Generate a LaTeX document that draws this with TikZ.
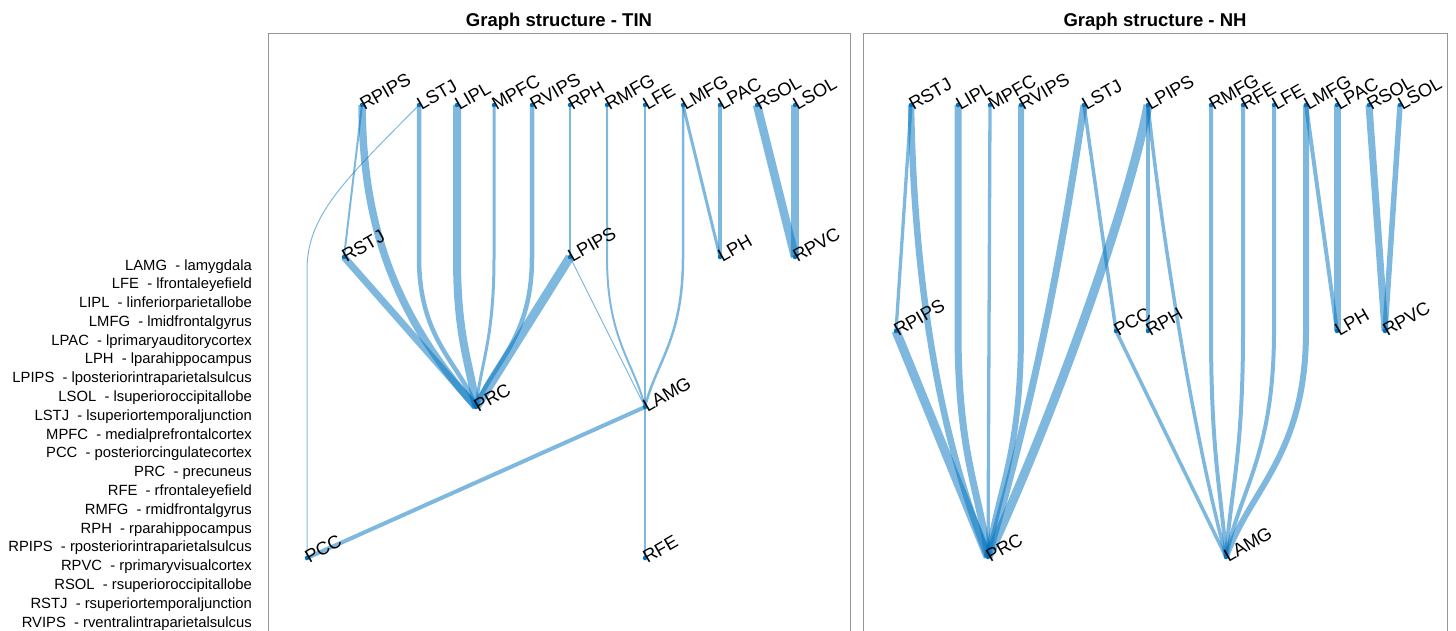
\documentclass[tikz,border=0pt]{standalone}
\usepackage{fontspec}
\setmainfont{Liberation Sans}
\usepackage{tikz}
\usetikzlibrary{backgrounds}
\definecolor{edgeblue}{RGB}{0,114,189}
\definecolor{nodeblue}{RGB}{0,114,189}
\definecolor{boxgray}{RGB}{150,150,150}
\tikzset{
  vert/.style={ circle, fill=nodeblue, inner sep=0pt, minimum size=4.5pt }
}
\tikzset{
  lbl/.style={ font=\fontsize{18.3}{21}\selectfont, inner sep=0pt, yshift=-6pt, rotate=30, anchor=base west }
}
\tikzset{
  lnk/.style={ draw=edgeblue, draw opacity=0.5, line width=#1 }
}
\tikzset{
  legtxt/.style={ font=\fontsize{14.8}{17}\selectfont, inner sep=0pt, anchor=base east }
}
\tikzset{
  ttl/.style={ font=\fontsize{18.5}{22}\selectfont\bfseries, inner sep=0pt, anchor=base }
}
\tikzset{
  frame/.style={ draw=boxgray, line width=0.9pt }
}

\begin{document}
\begin{tikzpicture}[x=1pt, y=-1pt]
      \useasboundingbox (0,0) rectangle (1456,631);
      % legend
      \foreach \ab/\full [count=\i from 0] in {LAMG/lamygdala, LFE/lfrontaleyefield,
          LIPL/linferiorparietallobe, LMFG/lmidfrontalgyrus, LPAC/lprimaryauditorycortex,
          LPH/lparahippocampus, LPIPS/lposteriorintraparietalsulcus, LSOL/lsuperioroccipitallobe,
          LSTJ/lsuperiortemporaljunction, MPFC/medialprefrontalcortex, PCC/posteriorcingulatecortex,
          PRC/precuneus, RFE/rfrontaleyefield, RMFG/rmidfrontalgyrus, RPH/rparahippocampus,
          RPIPS/rposteriorintraparietalsulcus, RPVC/rprimaryvisualcortex, RSOL/rsuperioroccipitallobe,
          RSTJ/rsuperiortemporaljunction, RVIPS/rventralintraparietalsulcus}
        \node[legtxt] (leg\i) at (252, 270+18.79*\i) {\ab~~- \full};

      % panel TIN
      \node[ttl] (ttlTIN) at (559,27) {Graph structure - TIN};
      \draw[frame] (268,631) |- (850,33) -- (850,631);
      \node[vert, label={[lbl]0:RPIPS}] (tRPIPS) at (362,105) {};
      \node[vert, label={[lbl]0:LSTJ}] (tLSTJ) at (419,105) {};
      \node[vert, label={[lbl]0:LIPL}] (tLIPL) at (457,105) {};
      \node[vert, label={[lbl]0:MPFC}] (tMPFC) at (494,105) {};
      \node[vert, label={[lbl]0:RVIPS}] (tRVIPS) at (532,105) {};
      \node[vert, label={[lbl]0:RPH}] (tRPH) at (570,105) {};
      \node[vert, label={[lbl]0:RMFG}] (tRMFG) at (607,105) {};
      \node[vert, label={[lbl]0:LFE}] (tLFE) at (645,105) {};
      \node[vert, label={[lbl]0:LMFG}] (tLMFG) at (683,105) {};
      \node[vert, label={[lbl]0:LPAC}] (tLPAC) at (720,105) {};
      \node[vert, label={[lbl]0:RSOL}] (tRSOL) at (757,105) {};
      \node[vert, label={[lbl]0:LSOL}] (tLSOL) at (795,105) {};
      \node[vert, label={[lbl]0:RSTJ}] (tRSTJ) at (344,257) {};
      \node[vert, label={[lbl]0:LPIPS}] (tLPIPS) at (570,257) {};
      \node[vert, label={[lbl]0:LPH}] (tLPH) at (720,257) {};
      \node[vert, label={[lbl]0:RPVC}] (tRPVC) at (795,257) {};
      \node[vert, label={[lbl]0:PRC}] (tPRC) at (476,407) {};
      \node[vert, label={[lbl]0:LAMG}] (tLAMG) at (645,407) {};
      \node[vert, label={[lbl]0:PCC}] (tPCC) at (307,558) {};
      \node[vert, label={[lbl]0:RFE}] (tRFE) at (645,558) {};
      \begin{scope}[on background layer]
        \draw[lnk=2] (tRPIPS.center) -- (tRSTJ.center);
        \draw[lnk=7.5] (tRPIPS.center) .. controls (363,200) and (380,300) .. (tPRC.center);
        \draw[lnk=4.5] (tLSTJ.center) -- (419,257) .. controls (419,340) and (459,362) .. (tPRC.center);
        \draw[lnk=1] (tLSTJ.center) .. controls (345,180) and (307,215) .. (307,270) -- (tPCC.center);
        \draw[lnk=8] (tLIPL.center) -- (457,257) .. controls (457,340) and (470,362) .. (tPRC.center);
        \draw[lnk=3] (tMPFC.center) -- (494,257) .. controls (494,340) and (481,362) .. (tPRC.center);
        \draw[lnk=4.5] (tRVIPS.center) -- (532,257) .. controls (532,340) and (493,362) .. (tPRC.center);
        \draw[lnk=2.5] (tRPH.center) -- (tLPIPS.center);
        \draw[lnk=2] (tRMFG.center) -- (607,257) .. controls (607,340) and (634,362) .. (tLAMG.center);
        \draw[lnk=2.5] (tLFE.center) -- (tLAMG.center);
        \draw[lnk=2.5] (tLMFG.center) -- (683,257) .. controls (683,340) and (656,362) .. (tLAMG.center);
        \draw[lnk=3] (tLMFG.center) -- (tLPH.center);
        \draw[lnk=4] (tLPAC.center) -- (tLPH.center);
        \draw[lnk=8.5] (tRSOL.center) -- (tRPVC.center);
        \draw[lnk=8] (tLSOL.center) -- (tRPVC.center);
        \draw[lnk=7] (tRSTJ.center) -- (tPRC.center);
        \draw[lnk=9] (tLPIPS.center) -- (tPRC.center);
        \draw[lnk=1] (tLPIPS.center) -- (tLAMG.center);
        \draw[lnk=4] (tPCC.center) -- (tLAMG.center);
        \draw[lnk=2.5] (tLAMG.center) -- (tRFE.center);
      \end{scope}

      % panel NH
      \node[ttl] (ttlNH) at (1155,27) {Graph structure - NH};
      \draw[frame] (863,631) |- (1447,33) -- (1447,631);
      \node[vert, label={[lbl]0:RSTJ}] (nRSTJ) at (911,105) {};
      \node[vert, label={[lbl]0:LIPL}] (nLIPL) at (958,105) {};
      \node[vert, label={[lbl]0:MPFC}] (nMPFC) at (990,105) {};
      \node[vert, label={[lbl]0:RVIPS}] (nRVIPS) at (1021,105) {};
      \node[vert, label={[lbl]0:LSTJ}] (nLSTJ) at (1084,105) {};
      \node[vert, label={[lbl]0:LPIPS}] (nLPIPS) at (1148,105) {};
      \node[vert, label={[lbl]0:RMFG}] (nRMFG) at (1211,105) {};
      \node[vert, label={[lbl]0:RFE}] (nRFE) at (1243,105) {};
      \node[vert, label={[lbl]0:LFE}] (nLFE) at (1274,105) {};
      \node[vert, label={[lbl]0:LMFG}] (nLMFG) at (1306,105) {};
      \node[vert, label={[lbl]0:LPAC}] (nLPAC) at (1337,105) {};
      \node[vert, label={[lbl]0:RSOL}] (nRSOL) at (1369,105) {};
      \node[vert, label={[lbl]0:LSOL}] (nLSOL) at (1400,105) {};
      \node[vert, label={[lbl]0:RPIPS}] (nRPIPS) at (896,331) {};
      \node[vert, label={[lbl]0:PCC}] (nPCC) at (1116,331) {};
      \node[vert, label={[lbl]0:RPH}] (nRPH) at (1148,331) {};
      \node[vert, label={[lbl]0:LPH}] (nLPH) at (1337,331) {};
      \node[vert, label={[lbl]0:RPVC}] (nRPVC) at (1385,331) {};
      \node[vert, label={[lbl]0:PRC}] (nPRC) at (988,557) {};
      \node[vert, label={[lbl]0:LAMG}] (nLAMG) at (1226,557) {};
      \begin{scope}[on background layer]
        \draw[lnk=3.3] (nRSTJ.center) -- (nRPIPS.center);
        \draw[lnk=6.5] (nRSTJ.center) .. controls (913,220) and (925,400) .. (nPRC.center);
        \draw[lnk=9] (nRPIPS.center) -- (nPRC.center);
        \draw[lnk=7] (nLIPL.center) -- (958,331) .. controls (958,455) and (979,489) .. (nPRC.center);
        \draw[lnk=3.3] (nMPFC.center) -- (nPRC.center);
        \draw[lnk=6] (nRVIPS.center) -- (1021,331) .. controls (1021,455) and (998,489) .. (nPRC.center);
        \draw[lnk=7] (nLSTJ.center) .. controls (1065,230) and (1040,380) .. (nPRC.center);
        \draw[lnk=9] (nLPIPS.center) .. controls (1130,200) and (1060,400) .. (nPRC.center);
        \draw[lnk=3.5] (nLSTJ.center) -- (nPCC.center);
        \draw[lnk=3.5] (nLPIPS.center) -- (nRPH.center);
        \draw[lnk=3.5] (nLPIPS.center) .. controls (1160,220) and (1190,420) .. (nLAMG.center);
        \draw[lnk=3.5] (nPCC.center) -- (nLAMG.center);
        \draw[lnk=4] (nRMFG.center) -- (1211,331) .. controls (1211,455) and (1221,489) .. (nLAMG.center);
        \draw[lnk=4] (nRFE.center) -- (1243,331) .. controls (1243,455) and (1231,489) .. (nLAMG.center);
        \draw[lnk=4] (nLFE.center) -- (1274,331) .. controls (1274,455) and (1240,489) .. (nLAMG.center);
        \draw[lnk=6] (nLMFG.center) -- (1306,331) .. controls (1306,455) and (1250,489) .. (nLAMG.center);
        \draw[lnk=4] (nLMFG.center) -- (nLPH.center);
        \draw[lnk=7] (nLPAC.center) -- (nLPH.center);
        \draw[lnk=7] (nRSOL.center) -- (nRPVC.center);
        \draw[lnk=5.5] (nLSOL.center) -- (nRPVC.center);
      \end{scope}
    \end{tikzpicture}
\end{document}
